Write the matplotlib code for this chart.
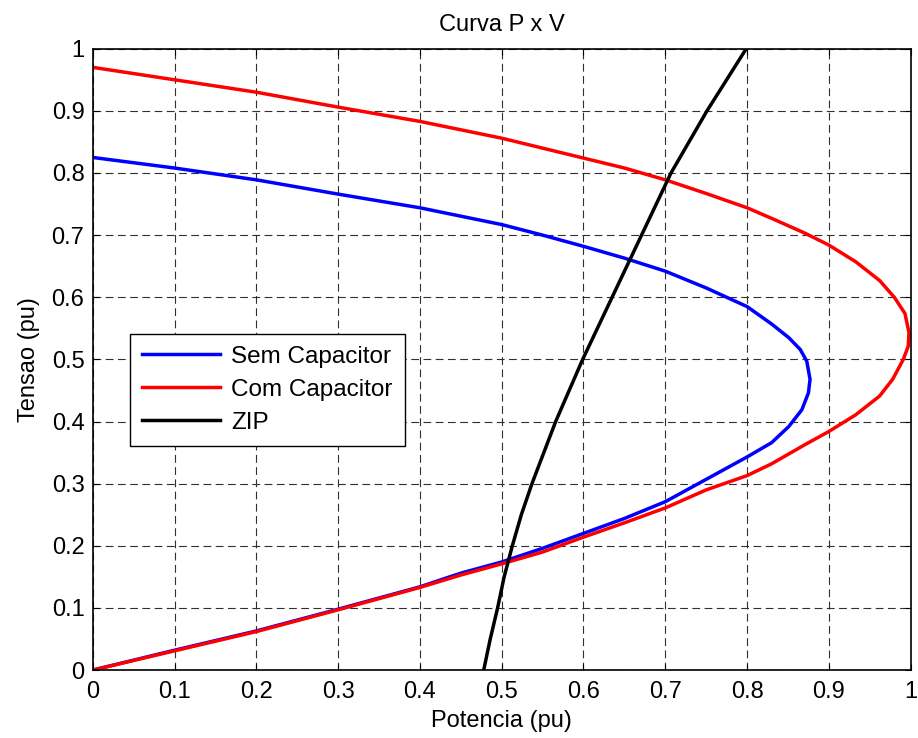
import matplotlib
matplotlib.use("Agg")
import matplotlib.pyplot as plt

plt.rcParams["font.family"] = ["Liberation Sans", "DejaVu Sans"]

# P-V curve without capacitor (upper branch -> nose -> lower branch)
sem_p = [0, 0.1, 0.2, 0.3, 0.4, 0.5, 0.55, 0.6, 0.65, 0.7, 0.75, 0.8, 0.830,
         0.851, 0.865, 0.873, 0.877, 0.875, 0.867, 0.851, 0.830, 0.8, 0.75,
         0.7, 0.65, 0.6, 0.55, 0.5, 0.45, 0.4, 0.3, 0.2, 0.1, 0]
sem_v = [0.825, 0.808, 0.789, 0.766, 0.744, 0.717, 0.700, 0.682, 0.663, 0.642,
         0.615, 0.585, 0.557, 0.535, 0.516, 0.497, 0.468, 0.446, 0.419, 0.392,
         0.366, 0.343, 0.307, 0.271, 0.244, 0.220, 0.196, 0.174, 0.156, 0.134,
         0.098, 0.063, 0.032, 0]

# P-V curve with capacitor
com_p = [0, 0.1, 0.2, 0.3, 0.4, 0.5, 0.55, 0.6, 0.65, 0.7, 0.75, 0.8, 0.830,
         0.871, 0.9, 0.933, 0.962, 0.980, 0.993, 0.998, 0.997, 0.991, 0.978,
         0.962, 0.933, 0.9, 0.871, 0.830, 0.8, 0.75, 0.7, 0.65, 0.6, 0.55,
         0.5, 0.45, 0.4, 0.3, 0.2, 0.1, 0]
com_v = [0.970, 0.950, 0.930, 0.906, 0.883, 0.856, 0.840, 0.824, 0.808, 0.789,
         0.767, 0.744, 0.727, 0.703, 0.684, 0.657, 0.627, 0.600, 0.574, 0.543,
         0.521, 0.500, 0.468, 0.441, 0.411, 0.384, 0.363, 0.332, 0.313, 0.290,
         0.261, 0.237, 0.214, 0.190, 0.171, 0.153, 0.133, 0.097, 0.062, 0.031, 0]

# ZIP load characteristic
zip_p = [0.478, 0.486, 0.495, 0.503, 0.513, 0.524, 0.537, 0.566, 0.599, 0.635,
         0.671, 0.707, 0.751, 0.799]
zip_v = [0, 0.05, 0.1, 0.15, 0.2, 0.25, 0.3, 0.4, 0.5, 0.6, 0.7, 0.8, 0.9, 1.0]

ticks = [0, 0.1, 0.2, 0.3, 0.4, 0.5, 0.6, 0.7, 0.8, 0.9, 1]
tick_labels = ["0", "0.1", "0.2", "0.3", "0.4", "0.5", "0.6", "0.7", "0.8", "0.9", "1"]

fig = plt.figure(figsize=(9.18, 7.38), dpi=100)
ax = fig.add_axes([0.101, 0.092, 0.891, 0.842])

lw = 2.5
ax.plot(sem_p, sem_v, color="#0000ff", lw=lw, label="Sem Capacitor")
ax.plot(com_p, com_v, color="#ff0000", lw=lw, label="Com Capacitor")
ax.plot(zip_p, zip_v, color="black", lw=lw, label="ZIP")

ax.set_xlim(0, 1)
ax.set_ylim(0, 1)
ax.set_xticks(ticks)
ax.set_xticklabels(tick_labels)
ax.set_yticks(ticks)
ax.set_yticklabels(tick_labels)
ax.grid(True, color="#303030", lw=0.8, linestyle=(0, (7, 4)))
ax.set_axisbelow(True)
ax.tick_params(direction="in", top=True, right=True, length=4, width=0.8,
               labelsize=17)
ax.tick_params(axis="x", pad=8)
ax.tick_params(axis="y", pad=6)
for s in ax.spines.values():
    s.set_linewidth(1.2)

ax.set_title("Curva P x V", fontsize=17, pad=13)
ax.set_xlabel("Potencia (pu)", fontsize=17, labelpad=5)
ax.set_ylabel("Tensao (pu)", fontsize=17, labelpad=8)

leg = ax.legend(loc="lower left", bbox_to_anchor=(0.046, 0.361),
                borderaxespad=0, fontsize=17.5, fancybox=False, framealpha=1,
                edgecolor="black", handlelength=3.2, handletextpad=0.45,
                labelspacing=0.45, borderpad=0.5)
leg.get_frame().set_linewidth(1.0)

fig.savefig("out.png", dpi=100)
